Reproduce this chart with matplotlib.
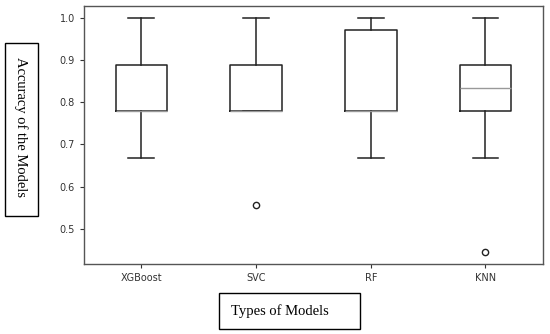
import matplotlib
matplotlib.use("Agg")
import matplotlib.pyplot as plt
from matplotlib.patches import Rectangle

# Box statistics
models = ["XGBoost", "SVC", "RF", "KNN"]
q1 = [0.778, 0.778, 0.778, 0.778]
q3 = [0.889, 0.889, 0.972, 0.889]
medians = [0.778, 0.778, 0.778, 0.833]
whis_lo = [0.667, 0.778, 0.667, 0.667]
whis_hi = [1.0, 1.0, 1.0, 1.0]
outliers = [[], [0.556], [], [0.444]]
y_ticks = [0.5, 0.6, 0.7, 0.8, 0.9, 1.0]

stats = []
for i, name in enumerate(models):
    stats.append(dict(label=name, q1=q1[i], q3=q3[i], med=medians[i],
                      whislo=whis_lo[i], whishi=whis_hi[i], fliers=outliers[i]))

fig = plt.figure(figsize=(5.5, 3.34), dpi=100)
ax = fig.add_axes([0.1527, 0.2096, 0.8343, 0.7724])

ax.bxp(stats, widths=0.45,
       boxprops=dict(color="#222222", linewidth=1.1),
       whiskerprops=dict(color="#222222", linewidth=1.1),
       capprops=dict(color="#222222", linewidth=1.1),
       medianprops=dict(color="#999999", linewidth=1.0),
       flierprops=dict(marker="o", markersize=4.5, markerfacecolor="none",
                       markeredgecolor="#222222", markeredgewidth=1.0))

ax.set_yticks(y_ticks)
ax.set_ylim(0.4166, 1.0278)
ax.tick_params(labelsize=7, colors="#333333", length=3, width=0.8)
for s in ax.spines.values():
    s.set_color("#555555")
    s.set_linewidth(1.0)

# boxed axis titles (drawn in figure coordinates)
fig.patches.append(Rectangle((4.5 / 550, 1 - 216 / 334), 33 / 550, 173 / 334,
                             transform=fig.transFigure, fill=False,
                             edgecolor="black", linewidth=1.0))
fig.text(21 / 550, 1 - 127 / 334, "Accuracy of the Models", rotation=270,
         ha="center", va="center", fontsize=10.5, family="Liberation Serif")

fig.patches.append(Rectangle((219 / 550, 1 - 329 / 334), 141 / 550, 36 / 334,
                             transform=fig.transFigure, fill=False,
                             edgecolor="black", linewidth=1.0))
fig.text(231 / 550, 1 - 311 / 334, "Types of Models", ha="left", va="center",
         fontsize=10.5, family="Liberation Serif")

fig.savefig("out.png", dpi=100)
